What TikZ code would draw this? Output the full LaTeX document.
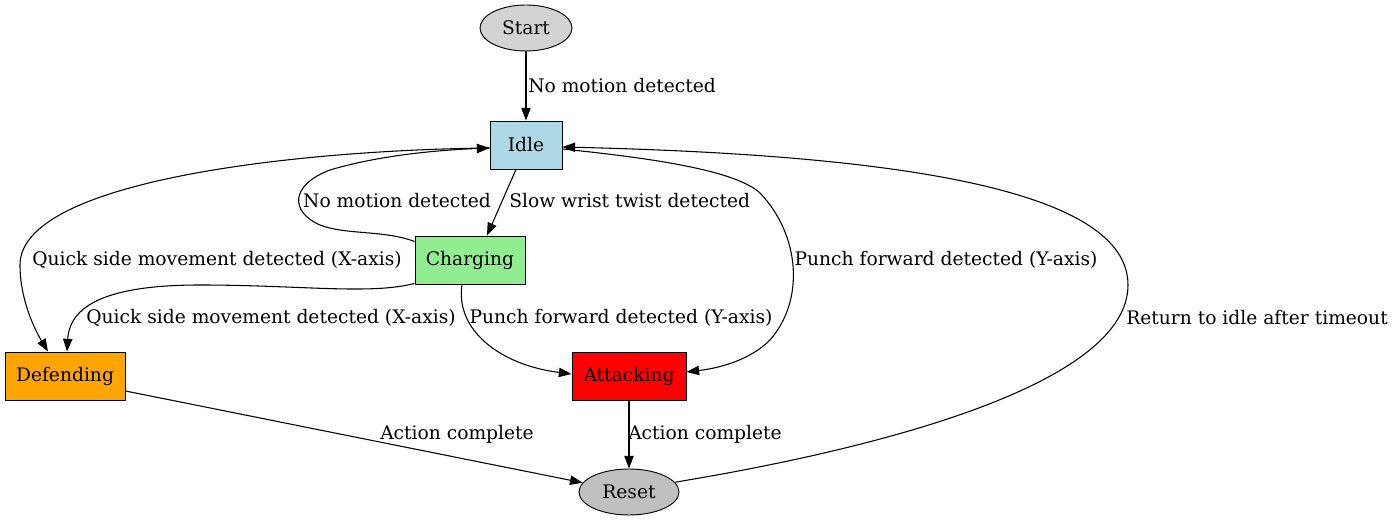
\documentclass[tikz,border=0pt]{standalone}
\usepackage{fontspec}
\setmainfont{DejaVu Serif}
\usetikzlibrary{arrows.meta,shapes.geometric,calc}
\definecolor{startgray}{HTML}{D3D3D3}
\definecolor{idleblue}{HTML}{ADD8E6}
\definecolor{chggreen}{HTML}{90EE90}
\definecolor{deforange}{HTML}{FFA500}
\definecolor{resetgray}{HTML}{C0C0C0}
\begin{document}
\begin{tikzpicture}[x=0.75pt,y=-0.75pt,
  font=\fontsize{14}{16}\selectfont,
  box/.style={draw, rectangle, minimum height=36pt, inner sep=0pt, line width=0.7pt},
  oval/.style={draw, ellipse, minimum height=34.5pt, inner sep=0pt, line width=0.7pt},
  edge/.style={-{Triangle[length=9.5pt,width=7pt]}, line width=0.8pt},
  lbl/.style={inner sep=0pt}]
\useasboundingbox (0,0) rectangle (1396,523);
% nodes
\node[oval, fill=startgray, minimum width=69pt] (start) at (526,28) {Start};
\node[box, fill=idleblue, minimum width=54pt] (idle) at (526,145) {Idle};
\node[box, fill=chggreen, minimum width=82.5pt] (charging) at (470,260) {Charging};
\node[box, fill=deforange, minimum width=90pt] (defending) at (65,376) {Defending};
\node[box, fill=red, minimum width=85.5pt] (attacking) at (629,376) {Attacking};
\node[oval, fill=resetgray, minimum width=75pt] (reset) at (629,492) {Reset};
% edges
\draw[edge] (start) -- (idle);
\draw[edge] ($(idle.south)+(-10,0)$) -- ($(charging.north)+(17,0)$);
\draw[edge] ($(charging.north west)+(0,6)$) .. controls (385,230) and (345,235) .. (320,225)
  .. controls (290,212) and (290,185) .. (330,170)
  .. controls (380,155) and (440,150) .. ($(idle.west)+(0,3)$);
\draw[edge] ($(idle.west)+(0,3)$) .. controls (300,150) and (20,180) .. (20,265)
  .. controls (20,300) and (35,330) .. ($(defending.north)+(-17,0)$);
\draw[edge] ($(charging.south west)+(0,-1)$) .. controls (370,295) and (300,285) .. (200,285)
  .. controls (120,285) and (70,300) .. ($(defending.north)+(2,0)$);
\draw[edge] ($(charging.south)+(-8,0)$) .. controls (455,330) and (500,365) .. ($(attacking.west)+(0,-2)$);
\draw[edge] ($(idle.east)+(0,4)$) .. controls (650,158) and (735,170) .. (760,193)
  .. controls (800,235) and (805,300) .. (770,340)
  .. controls (750,360) and (720,368) .. ($(attacking.east)+(0,-4)$);
\draw[edge] ($(defending.east)+(0,15)$) -- (reset);
\draw[edge] (attacking) -- (reset);
\draw[edge] (reset.12) .. controls (900,445) and (1128,380) .. (1128,285)
  .. controls (1128,190) and (900,155) .. ($(idle.east)+(0,2)$);
% labels
\node[lbl, anchor=west] (l1) at (528,86) {No motion detected};
\node[lbl, anchor=west] (l2) at (509,201) {Slow wrist twist detected};
\node[lbl] (l3) at (397,201) {No motion detected};
\node[lbl] (l4) at (217,260) {Quick side movement detected (X-axis)};
\node[lbl] (l5) at (271,318) {Quick side movement detected (X-axis)};
\node[lbl] (l6) at (621,318) {Punch forward detected (Y-axis)};
\node[lbl] (l7) at (946,260) {Punch forward detected (Y-axis)};
\node[lbl] (l8) at (1257,318) {Return to idle after timeout};
\node[lbl] (l9) at (457,434) {Action complete};
\node[lbl] (l10) at (705,434) {Action complete};
\end{tikzpicture}
\end{document}
